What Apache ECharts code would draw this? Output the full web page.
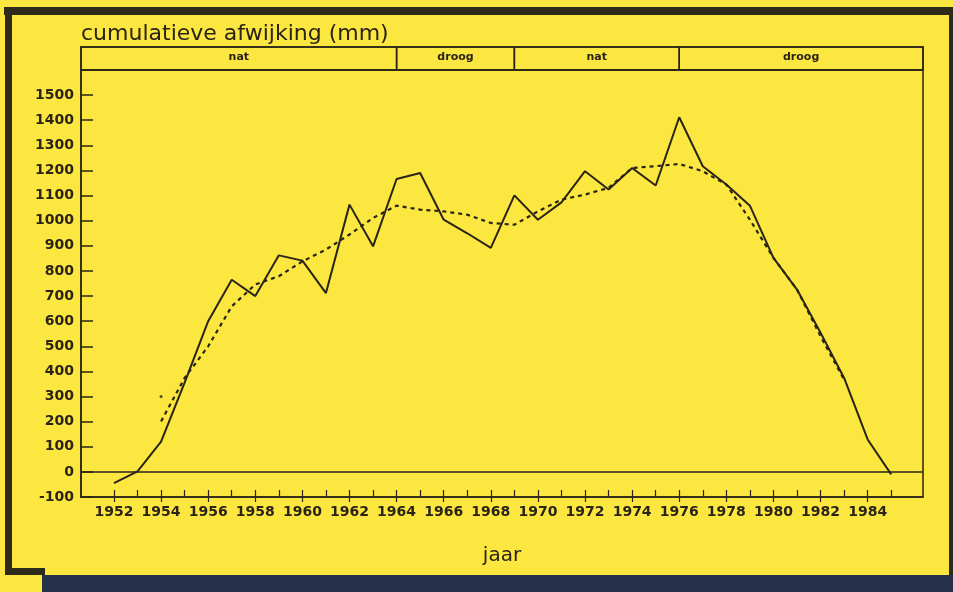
<!DOCTYPE html>
<html>
<head>
<meta charset="utf-8">
<script src="https://cdn.jsdelivr.net/npm/echarts@6/dist/echarts.min.js"></script>
<style>
html,body{margin:0;padding:0;background:#fbe740;}
#chart{width:953px;height:592px;}
</style>
</head>
<body>
<div id="chart"></div>
<script>
// ---- data ----
var years = [1952,1953,1954,1955,1956,1957,1958,1959,1960,1961,1962,1963,1964,1965,1966,1967,1968,1969,1970,1971,1972,1973,1974,1975,1976,1977,1978,1979,1980,1981,1982,1983,1984,1985];
var annual = [-45,2,120,355,600,765,700,862,841,712,1064,898,1166,1190,1004,950,892,1101,1004,1073,1197,1124,1210,1140,1412,1217,1144,1060,852,726,554,374,129,-10];
var smoothYears = [1954,1955,1956,1957,1958,1959,1960,1961,1962,1963,1964,1965,1966,1967,1968,1969,1970,1971,1972,1973,1974,1975,1976,1977,1978,1979,1980,1981,1982,1983];
var smoothed = [201,374,500,659,746,779,838,885,945,1011,1060,1044,1037,1024,991,984,1037,1084,1104,1131,1210,1217,1226,1197,1144,1004,852,726,540,367];
var strayYear = [1954];
var strayValue = [300];
var xTickYears = [1952,1953,1954,1955,1956,1957,1958,1959,1960,1961,1962,1963,1964,1965,1966,1967,1968,1969,1970,1971,1972,1973,1974,1975,1976,1977,1978,1979,1980,1981,1982,1983,1984,1985];
var xLabelYears = [1952,1954,1956,1958,1960,1962,1964,1966,1968,1970,1972,1974,1976,1978,1980,1982,1984];
var yTicks = [-100,0,100,200,300,400,500,600,700,800,900,1000,1100,1200,1300,1400,1500];
var periodBreaks = [1964,1969,1976];
var periodLabels = ['nat','droog','nat','droog'];

var XMIN = 1950.6, XMAX = 1986.35;
var INK = '#2b2416';
var FONT = 'DejaVu Sans';

function zip(a,b){ return a.map(function(v,i){ return [v,b[i]]; }); }
var edges = [XMIN].concat(periodBreaks).concat([XMAX]);
var periodData = periodLabels.map(function(l,i){ return [edges[i], edges[i+1], l]; });

var chart = echarts.init(document.getElementById('chart'));
chart.setOption({
  animation:false,
  backgroundColor:'#fbe740',
  graphic:[
    {type:'rect', shape:{x:4,y:7,width:949,height:8}, style:{fill:'#2e2a1c'}},
    {type:'rect', shape:{x:5,y:7,width:7,height:568}, style:{fill:'#2e2a1c'}},
    {type:'rect', shape:{x:5,y:568,width:40,height:7}, style:{fill:'#2e2a1c'}},
    {type:'rect', shape:{x:949,y:10,width:4,height:566}, style:{fill:'#2e2a1c'}},
    {type:'rect', shape:{x:42,y:575,width:911,height:17}, style:{fill:'#25304a'}}
  ],
  grid:[
    {left:81, right:30, top:70, bottom:95, show:true, borderColor:INK, borderWidth:1.5, backgroundColor:'transparent'},
    {left:81, right:30, top:47, height:23, show:true, borderColor:INK, borderWidth:1.5, backgroundColor:'transparent'}
  ],
  xAxis:[
    {gridIndex:0, type:'value', min:XMIN, max:XMAX, position:'bottom',
     axisLine:{show:true, onZero:false, lineStyle:{color:INK, width:1.5}},
     axisTick:{show:true, inside:true, length:7, lineStyle:{color:INK, width:1.2}, customValues:xTickYears},
     axisLabel:{show:false}, splitLine:{show:false}},
    {gridIndex:0, type:'value', min:XMIN, max:XMAX, position:'bottom',
     axisLine:{show:false, onZero:false},
     axisTick:{show:true, inside:false, length:5, lineStyle:{color:INK, width:1.2}, customValues:xLabelYears},
     axisLabel:{show:true, customValues:xLabelYears, margin:8, color:INK, fontFamily:FONT, fontWeight:'bold', fontSize:14,
       formatter:function(v){ return String(Math.round(v)); }},
     splitLine:{show:false},
     name:'jaar', nameLocation:'middle', nameGap:49,
     nameTextStyle:{color:INK, fontFamily:FONT, fontSize:20}},
    {gridIndex:1, type:'value', min:XMIN, max:XMAX, show:false}
  ],
  yAxis:[
    {gridIndex:0, type:'value', min:-100, max:1600,
     axisLine:{show:true, lineStyle:{color:INK, width:1.5}},
     axisTick:{show:true, inside:true, length:12, lineStyle:{color:INK, width:1.5}, customValues:yTicks},
     axisLabel:{show:true, customValues:yTicks, margin:7, color:INK, fontFamily:FONT, fontWeight:'bold', fontSize:14,
       formatter:function(v){ return String(Math.round(v)); }},
     splitLine:{show:false},
     name:'cumulatieve afwijking (mm)', nameLocation:'end', nameGap:25,
     nameTextStyle:{color:INK, fontFamily:FONT, fontSize:22, align:'left', verticalAlign:'bottom'}},
    {gridIndex:1, type:'value', min:0, max:1, show:false}
  ],
  series:[
    {type:'line', xAxisIndex:0, yAxisIndex:0, data:zip(years, annual), showSymbol:false, symbol:'none',
     lineStyle:{color:INK, width:2}, z:5,
     markLine:{silent:true, symbol:'none', label:{show:false},
       lineStyle:{color:INK, width:1.5, type:'solid'}, data:[{yAxis:0}]}},
    {type:'line', xAxisIndex:0, yAxisIndex:0, data:zip(smoothYears, smoothed), showSymbol:false, symbol:'none',
     lineStyle:{color:INK, width:2.2, type:[4,4]}, z:4},
    {type:'scatter', xAxisIndex:0, yAxisIndex:0, data:zip(strayYear, strayValue), symbolSize:3,
     itemStyle:{color:INK}},
    {type:'custom', xAxisIndex:2, yAxisIndex:1, data:periodData, silent:true,
     renderItem:function(params, api){
       var p0 = api.coord([api.value(0), 0]);
       var p1 = api.coord([api.value(1), 1]);
       return {type:'group', children:[
         {type:'rect', shape:{x:p0[0], y:p1[1], width:p1[0]-p0[0], height:p0[1]-p1[1]},
          style:{fill:'transparent', stroke:INK, lineWidth:1.5}},
         {type:'text', style:{text:periodLabels[params.dataIndex], x:(p0[0]+p1[0])/2, y:(p0[1]+p1[1])/2 - 1,
           align:'center', verticalAlign:'middle', fill:INK, font:'bold 11px "DejaVu Sans"'}}
       ]};
     }}
  ]
});
</script>
</body>
</html>
